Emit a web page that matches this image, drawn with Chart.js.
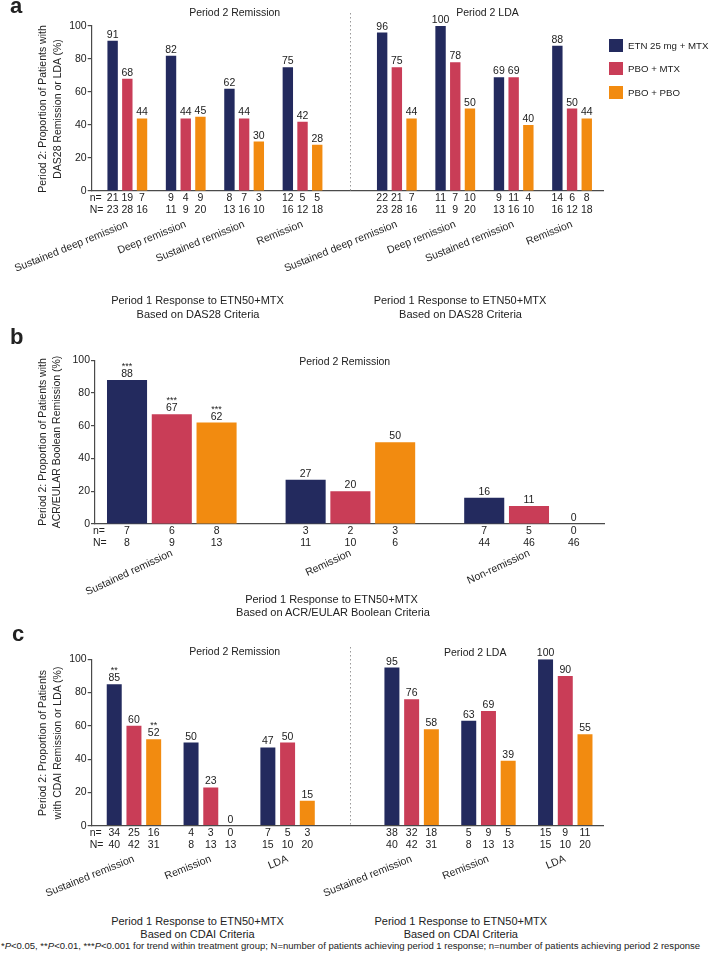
<!DOCTYPE html>
<html>
<head>
<meta charset="utf-8">
<script src="https://cdn.jsdelivr.net/npm/chart.js@4.4.1/dist/chart.umd.min.js"></script>
<style>
  html, body { margin: 0; padding: 0; background: #fff; }
  #fig { position: relative; width: 709px; height: 963px; overflow: hidden;
         font-family: 'Liberation Sans', Arial, sans-serif; color: #222; }
  #fig canvas { position: absolute; left: 0; }
  .t { position: absolute; white-space: nowrap; line-height: 1; font-size: 10.5px;
       transform: translate(-50%, -50%); }
  .cap { font-size: 11px; }
  .ylab { transform: translate(-50%, -50%) rotate(-90deg); }
  .panel { position: absolute; font-weight: bold; font-size: 22px; line-height: 22px; }
  .key { position: absolute; left: 609px; width: 14px; height: 13px; }
  .keyt { position: absolute; left: 628px; font-size: 9.7px; line-height: 1;
          transform: translateY(-50%); white-space: nowrap; }
</style>
</head>
<body>
<div id="fig">
  <canvas id="cA" width="709" height="290" style="top:0"></canvas>
  <canvas id="cB" width="709" height="305" style="top:300px"></canvas>
  <canvas id="cC" width="709" height="290" style="top:615px"></canvas>
</div>
<script>
// ----- data -----
const series = ['ETN 25 mg + MTX', 'PBO + MTX', 'PBO + PBO'];

// panel a: DAS28, period 2 remission | period 2 LDA
const aCats = ['Sustained deep remission', 'Deep remission', 'Sustained remission', 'Remission'];
const aRemEtn = [91, 82, 62, 75];
const aRemMtx = [68, 44, 44, 42];
const aRemPbo = [44, 45, 30, 28];
const aLdaEtn = [96, 100, 69, 88];
const aLdaMtx = [75, 78, 69, 50];
const aLdaPbo = [44, 50, 40, 44];
const aRemNEtn = [21, 9, 8, 12], aRemNMtx = [19, 4, 7, 5], aRemNPbo = [7, 9, 3, 5];
const aLdaNEtn = [22, 11, 9, 14], aLdaNMtx = [21, 7, 11, 6], aLdaNPbo = [7, 10, 4, 8];
const aTotEtn = [23, 11, 13, 16], aTotMtx = [28, 9, 16, 12], aTotPbo = [16, 20, 10, 18];

// panel b: ACR/EULAR Boolean, period 2 remission
const bCats = ['Sustained remission', 'Remission', 'Non-remission'];
const bEtn = [88, 27, 16];
const bMtx = [67, 20, 11];
const bPbo = [62, 50, 0];
const bNEtn = [7, 3, 7], bNMtx = [6, 2, 5], bNPbo = [8, 3, 0];
const bTotEtn = [8, 11, 44], bTotMtx = [9, 10, 46], bTotPbo = [13, 6, 46];
const bStarEtn = ['***', '', ''], bStarMtx = ['***', '', ''], bStarPbo = ['***', '', ''];

// panel c: CDAI, period 2 remission | period 2 LDA
const cCats = ['Sustained remission', 'Remission', 'LDA'];
const cRemEtn = [85, 50, 47];
const cRemMtx = [60, 23, 50];
const cRemPbo = [52, 0, 15];
const cLdaEtn = [95, 63, 100];
const cLdaMtx = [76, 69, 90];
const cLdaPbo = [58, 39, 55];
const cRemNEtn = [34, 4, 7], cRemNMtx = [25, 3, 5], cRemNPbo = [16, 0, 3];
const cLdaNEtn = [38, 5, 15], cLdaNMtx = [32, 9, 9], cLdaNPbo = [18, 5, 11];
const cTotEtn = [40, 8, 15], cTotMtx = [42, 13, 10], cTotPbo = [31, 13, 20];
const cStarEtn = ['**', '', ''], cStarMtx = ['', '', ''], cStarPbo = ['**', '', ''];

// ----- style -----
const FONT = "'Liberation Sans', Arial, sans-serif";
const INK = '#222';
const AXIS = '#4a4a4a';
const COLORS = ['#232a5e', '#c93d57', '#f28b10'];
const GAP = 0.615; // extra room between the two halves of a panel

// two halves side by side on one x axis
function halves(cats) {
  const k = cats.length;
  return [...cats, ...cats].map((_, i) => i < k ? i : i + GAP);
}

// ----- labels drawn on top of the bars -----
function annotate(o) {
  return {
    id: 'annot',
    afterDraw(chart) {
      const ctx = chart.ctx, area = chart.chartArea, xs = chart.scales.x;
      const base = area.bottom;
      ctx.save();
      ctx.fillStyle = INK;
      ctx.textAlign = 'center';
      chart.data.datasets.forEach((ds, d) => {
        chart.getDatasetMeta(d).data.forEach((bar, i) => {
          ctx.font = '10.5px ' + FONT;
          ctx.textBaseline = 'alphabetic';
          ctx.fillText(ds.data[i].y, bar.x, bar.y - 3);
          const s = o.stars && o.stars[d][i];
          if (s) {
            ctx.font = '9px ' + FONT;
            ctx.fillText(s, bar.x, bar.y - 11);
            ctx.font = '10.5px ' + FONT;
          }
          ctx.textBaseline = 'middle';
          ctx.fillText(o.n[d][i], bar.x, base + 7);
          ctx.fillText(o.N[d][i], bar.x, base + 19.5);
        });
      });
      ctx.textAlign = 'left';
      ctx.fillText('n=', area.left - 2, base + 7);
      ctx.fillText('N=', area.left - 2, base + 19.5);

      ctx.textAlign = 'right';
      ctx.textBaseline = 'top';
      o.cats.forEach((c, i) => {
        ctx.save();
        ctx.translate(xs.getPixelForValue(o.pos[i]) - 2, base + o.catDy);
        ctx.rotate(-o.rot * Math.PI / 180);
        ctx.fillText(c, 0, 0);
        ctx.restore();
      });

      if (o.sep) {
        const x = Math.round(xs.getPixelForValue(o.sep.pos)) + 0.5;
        ctx.strokeStyle = '#999';
        ctx.lineWidth = 1;
        ctx.setLineDash([1.5, 2.5]);
        ctx.beginPath();
        ctx.moveTo(x, o.sep.top);
        ctx.lineTo(x, base);
        ctx.stroke();
      }
      ctx.restore();
    }
  };
}

function barChart(id, o) {
  return new Chart(document.getElementById(id), {
    type: 'bar',
    data: {
      datasets: o.vals.map((v, d) => ({
        label: series[d],
        backgroundColor: COLORS[d],
        borderWidth: 0,
        data: v.map((y, i) => ({ x: o.pos[i], y }))
      }))
    },
    options: {
      responsive: false,
      animation: false,
      layout: { padding: { top: o.top, right: 709 - o.right, left: 0, bottom: 0 } },
      datasets: { bar: { categoryPercentage: o.cat, barPercentage: o.bar } },
      plugins: { legend: { display: false }, tooltip: { enabled: false } },
      scales: {
        x: {
          type: 'linear', min: o.xmin, max: o.xmax, offset: false,
          afterBuildTicks: s => { s.ticks = o.pos.map(value => ({ value })); },
          afterFit: s => { s.height = o.h - o.bottom; },
          ticks: { display: false },
          grid: { display: false },
          border: { display: true, color: AXIS, width: 1.2 }
        },
        y: {
          min: 0, max: 100,
          afterFit: s => { s.width = o.left; },
          ticks: { stepSize: 20, padding: 1, color: INK, font: { family: FONT, size: 10.5 } },
          grid: { drawOnChartArea: false, drawTicks: true, tickLength: 4, color: AXIS, lineWidth: 1.2 },
          border: { color: AXIS, width: 1.2 }
        }
      }
    },
    plugins: [annotate(o)]
  });
}

// ----- panel a -----
const posA = halves(aCats);
barChart('cA', {
  h: 290, top: 26, bottom: 191, left: 91.7, right: 603.3,
  xmin: -0.61, xmax: 8.15, cat: 0.755, bar: 0.707,
  pos: posA, cats: [...aCats, ...aCats], catDy: 28, rot: 22,
  vals: [[...aRemEtn, ...aLdaEtn], [...aRemMtx, ...aLdaMtx], [...aRemPbo, ...aLdaPbo]],
  n: [[...aRemNEtn, ...aLdaNEtn], [...aRemNMtx, ...aLdaNMtx], [...aRemNPbo, ...aLdaNPbo]],
  N: [[...aTotEtn, ...aTotEtn], [...aTotMtx, ...aTotMtx], [...aTotPbo, ...aTotPbo]],
  sep: { pos: (posA[3] + posA[4]) / 2, top: 13 }
});

// ----- panel b -----
barChart('cB', {
  h: 305, top: 60.3, bottom: 224, left: 95, right: 604,
  xmin: -0.43, xmax: 2.42, cat: 0.752, bar: 0.895,
  pos: bCats.map((_, i) => i), cats: bCats, catDy: 24, rot: 25,
  vals: [bEtn, bMtx, bPbo],
  n: [bNEtn, bNMtx, bNPbo],
  N: [bTotEtn, bTotMtx, bTotPbo],
  stars: [bStarEtn, bStarMtx, bStarPbo]
});

// ----- panel c -----
const posC = halves(cCats);
barChart('cC', {
  h: 290, top: 44.3, bottom: 210.7, left: 91.7, right: 603.3,
  xmin: -0.55, xmax: 6.11, cat: 0.77, bar: 0.76,
  pos: posC, cats: [...cCats, ...cCats], catDy: 28, rot: 22,
  vals: [[...cRemEtn, ...cLdaEtn], [...cRemMtx, ...cLdaMtx], [...cRemPbo, ...cLdaPbo]],
  n: [[...cRemNEtn, ...cLdaNEtn], [...cRemNMtx, ...cLdaNMtx], [...cRemNPbo, ...cLdaNPbo]],
  N: [[...cTotEtn, ...cTotEtn], [...cTotMtx, ...cTotMtx], [...cTotPbo, ...cTotPbo]],
  stars: [[...cStarEtn, '', '', ''], [...cStarMtx, '', '', ''], [...cStarPbo, '', '', '']],
  sep: { pos: (posC[2] + posC[3]) / 2, top: 32 }
});

// ----- text around the charts -----
const fig = document.getElementById('fig');
function txt(s, x, y, cls) {
  const el = document.createElement('div');
  el.className = 't ' + (cls || '');
  el.innerHTML = s;
  el.style.left = x + 'px';
  el.style.top = y + 'px';
  fig.appendChild(el);
  return el;
}
function panel(s, x, y) {
  const el = document.createElement('div');
  el.className = 'panel';
  el.textContent = s;
  el.style.left = x + 'px';
  el.style.top = y + 'px';
  fig.appendChild(el);
}

panel('a', 10, -5);
panel('b', 10, 326);
panel('c', 12, 623);

txt('Period 2 Remission', 234.7, 11.7);
txt('Period 2 LDA', 487.5, 11.7);
txt('Period 2 Remission', 344.7, 361);
txt('Period 2 Remission', 234.7, 650.7);
txt('Period 2 LDA', 475.2, 651.7);

txt('Period 2: Proportion of Patients with', 42, 108.5, 'ylab');
txt('DAS28 Remission or LDA (%)', 56.5, 108.5, 'ylab');
txt('Period 2: Proportion of Patients with', 42, 442, 'ylab');
txt('ACR/EULAR Boolean Remission (%)', 55.5, 442, 'ylab');
txt('Period 2: Proportion of Patients', 42, 742.5, 'ylab');
txt('with CDAI Remission or LDA (%)', 56.5, 742.5, 'ylab');

txt('Period 1 Response to ETN50+MTX', 197.5, 300, 'cap');
txt('Based on DAS28 Criteria', 198, 314.3, 'cap');
txt('Period 1 Response to ETN50+MTX', 460, 300, 'cap');
txt('Based on DAS28 Criteria', 460.5, 314.3, 'cap');
txt('Period 1 Response to ETN50+MTX', 331.5, 599, 'cap');
txt('Based on ACR/EULAR Boolean Criteria', 333, 612.3, 'cap');
txt('Period 1 Response to ETN50+MTX', 197.5, 921, 'cap');
txt('Based on CDAI Criteria', 197.5, 934, 'cap');
txt('Period 1 Response to ETN50+MTX', 460.8, 921, 'cap');
txt('Based on CDAI Criteria', 460.8, 934, 'cap');

// legend
[45.7, 68.7, 92.5].forEach((y, d) => {
  const sq = document.createElement('div');
  sq.className = 'key';
  sq.style.top = (y - 6.5) + 'px';
  sq.style.background = COLORS[d];
  fig.appendChild(sq);
  const t = document.createElement('div');
  t.className = 'keyt';
  t.style.top = y + 'px';
  t.textContent = series[d];
  fig.appendChild(t);
});

// footnote, fitted to the figure width
const foot = txt('*<i>P</i>&lt;0.05, **<i>P</i>&lt;0.01, ***<i>P</i>&lt;0.001 for trend within treatment group; ' +
  'N=number of patients achieving period 1 response; n=number of patients achieving period 2 response', 350.5, 945.7);
foot.style.fontSize = '10px';
const w = foot.getBoundingClientRect().width;
foot.style.fontSize = (10 * 700 / w) + 'px';
</script>
</body>
</html>
